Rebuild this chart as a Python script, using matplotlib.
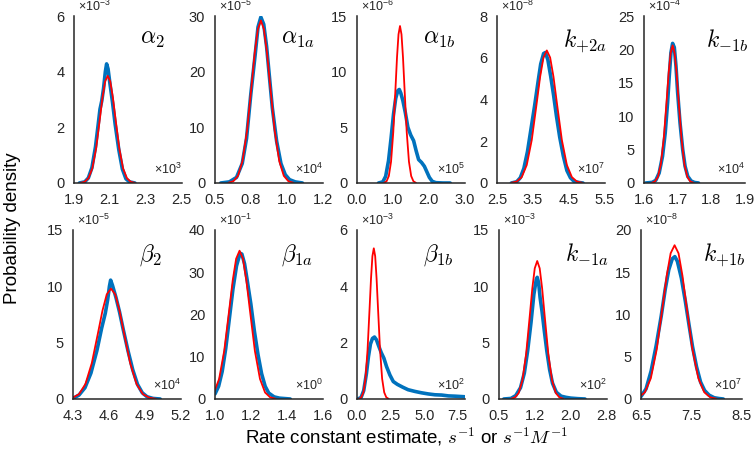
import matplotlib
matplotlib.use("Agg")
import matplotlib.pyplot as plt
from matplotlib.ticker import FormatStrFormatter, FixedLocator

plt.rcParams['font.family'] = ['Liberation Sans', 'DejaVu Sans']
plt.rcParams['mathtext.fontset'] = 'cm'

BLUE = '#0072BD'
RED = '#FF0000'
GRAY = '#262626'

# ---------------- data (x in units of 10^xexp, y in units of 10^yexp) ----------------
titles = [r'$\alpha_2$', r'$\alpha_{1a}$', r'$\alpha_{1b}$', r'$k_{+2a}$', r'$k_{-1b}$',
          r'$\beta_2$', r'$\beta_{1a}$', r'$\beta_{1b}$', r'$k_{-1a}$', r'$k_{+1b}$']
y_exp = [-3, -5, -6, -8, -4, -5, -1, -3, -3, -8]
x_exp = [3, 4, 5, 7, 4, 4, 0, 2, 2, 7]
x_lims = [(1.9, 2.5), (0.5, 1.25), (0.0, 3.0), (2.5, 5.5), (1.6, 1.9),
          (4.3, 5.2), (1.0, 1.6), (0.0, 8.0), (0.5, 2.75), (6.5, 8.5)]
x_ticks = [[1.9, 2.1, 2.3, 2.5], [0.5, 0.75, 1.0, 1.25], [0.0, 1.0, 2.0, 3.0],
           [2.5, 3.5, 4.5, 5.5], [1.6, 1.7, 1.8, 1.9],
           [4.3, 4.6, 4.9, 5.2], [1.0, 1.2, 1.4, 1.6], [0.0, 2.5, 5.0, 7.5],
           [0.5, 1.25, 2.0, 2.75], [6.5, 7.5, 8.5]]
y_ticks = [[0, 2, 4, 6], [0, 10, 20, 30], [0, 5, 10, 15], [0, 2, 4, 6, 8],
           [0, 5, 10, 15, 20, 25],
           [0, 5, 10, 15], [0, 10, 20, 30, 40], [0, 2, 4, 6], [0, 5, 10, 15],
           [0, 5, 10, 15, 20]]

# alpha_2
a2_bx = [1.93, 1.96, 1.98, 2.00, 2.02, 2.035, 2.045, 2.055, 2.065, 2.075, 2.082, 2.09, 2.10,
         2.115, 2.13, 2.15, 2.17, 2.19, 2.21, 2.24]
a2_by = [0, 0.04, 0.18, 0.55, 1.3, 2.1, 2.65, 2.95, 3.4, 4.0, 4.28, 4.1, 3.6, 2.9, 2.1, 1.2,
         0.5, 0.15, 0.04, 0]
a2_rx = [1.9375, 1.959, 1.9805, 2.002, 2.0235, 2.045, 2.0592, 2.0738, 2.088, 2.1022, 2.1168,
         2.131, 2.1525, 2.174, 2.1955, 2.217, 2.2385]
a2_ry = [0.008, 0.042, 0.17, 0.52, 1.25, 2.34, 3.08, 3.65, 3.85, 3.65, 3.08, 2.34, 1.25, 0.52,
         0.17, 0.042, 0.008]

# alpha_1a
a1a_bx = [0.54, 0.60, 0.65, 0.69, 0.72, 0.75, 0.78, 0.80, 0.82, 0.84, 0.86, 0.88, 0.90, 0.93,
          0.96, 0.99, 1.02, 1.06, 1.11]
a1a_by = [0, 0.2, 1.0, 3.5, 8, 16, 23, 28, 29.8, 28.5, 24.5, 19, 13.5, 7.5, 3.5, 1.5, 0.6, 0.2, 0]
a1a_rx = [0.596, 0.628, 0.66, 0.692, 0.724, 0.756, 0.7773, 0.7987, 0.82, 0.8413, 0.8627, 0.884,
          0.916, 0.948, 0.98, 1.012, 1.044]
a1a_ry = [0.06, 0.32, 1.28, 3.95, 9.48, 17.7, 23.4, 27.6, 29.2, 27.6, 23.4, 17.7, 9.48, 3.95,
          1.28, 0.32, 0.06]

# alpha_1b
a1b_bx = [0.6, 0.72, 0.8, 0.88, 0.95, 1.02, 1.08, 1.14, 1.18, 1.22, 1.28, 1.35, 1.42, 1.5, 1.58,
          1.65, 1.72, 1.8, 1.88, 1.95, 2.02, 2.1, 2.2, 2.4, 2.6]
a1b_by = [0, 0.1, 0.6, 2.0, 4.0, 6.2, 7.6, 8.3, 8.4, 8.1, 7.4, 6.3, 5.0, 4.3, 3.8, 2.9, 2.1,
          1.85, 1.5, 1.0, 0.5, 0.15, 0.03, 0, 0]
a1b_rx = [0.7625, 0.825, 0.8875, 0.95, 1.0125, 1.075, 1.1167, 1.1583, 1.2, 1.2417, 1.2833,
          1.325, 1.3875, 1.45, 1.5125, 1.575, 1.6375]
a1b_ry = [0.03, 0.155, 0.62, 1.91, 4.58, 8.56, 11.3, 13.35, 14.1, 13.35, 11.3, 8.56, 4.58,
          1.91, 0.62, 0.155, 0.03]

# k_{+2a}
k2a_bx = [2.9, 3.05, 3.15, 3.25, 3.35, 3.45, 3.55, 3.65, 3.72, 3.8, 3.85, 3.92, 4.0, 4.08, 4.16,
          4.25, 4.35, 4.45, 4.55, 4.65, 4.8, 4.9]
k2a_by = [0, 0.06, 0.25, 0.7, 1.5, 2.6, 3.7, 4.9, 5.7, 6.2, 6.25, 5.9, 5.1, 4.2, 3.2, 2.2, 1.3,
          0.6, 0.25, 0.08, 0.02, 0]
k2a_rx = [2.91, 3.05, 3.19, 3.33, 3.47, 3.61, 3.703, 3.797, 3.89, 3.983, 4.077, 4.17, 4.31,
          4.45, 4.59, 4.73, 4.87]
k2a_ry = [0.014, 0.07, 0.28, 0.86, 2.06, 3.85, 5.08, 6.01, 6.35, 6.01, 5.08, 3.85, 2.06, 0.86,
          0.28, 0.07, 0.014]

# k_{-1b}
k1b_bx = [1.605, 1.625, 1.635, 1.645, 1.655, 1.663, 1.67, 1.675, 1.68, 1.685, 1.69, 1.695, 1.70,
          1.707, 1.715, 1.722, 1.73, 1.74, 1.75, 1.762]
k1b_by = [0, 0.1, 0.4, 1.5, 4.0, 7.5, 12, 16, 19.5, 20.9, 20.3, 17.5, 13.5, 9, 5, 2.5, 1.0,
          0.3, 0.08, 0]
k1b_rx = [1.6238, 1.6325, 1.6413, 1.65, 1.6588, 1.6675, 1.6733, 1.6792, 1.685, 1.6908, 1.6967,
          1.7025, 1.7113, 1.72, 1.7288, 1.7375, 1.7463]
k1b_ry = [0.045, 0.23, 0.91, 2.79, 6.7, 12.5, 16.5, 19.5, 20.6, 19.5, 16.5, 12.5, 6.7, 2.79,
          0.91, 0.23, 0.045]

# beta_2
b2_bx = [4.30, 4.35, 4.40, 4.45, 4.50, 4.54, 4.57, 4.59, 4.605, 4.615, 4.63, 4.66, 4.69, 4.72,
         4.76, 4.80, 4.84, 4.88, 4.92, 4.97, 5.03]
b2_by = [0.05, 0.35, 1.0, 2.3, 4.3, 6.3, 7.6, 8.8, 10.0, 10.55, 10.1, 9.0, 7.7, 6.2, 4.3, 2.6,
         1.3, 0.55, 0.2, 0.05, 0]
b2_rx = [4.2435, 4.297, 4.3505, 4.404, 4.4575, 4.511, 4.5467, 4.5823, 4.618, 4.6537, 4.6893,
         4.725, 4.7785, 4.832, 4.8855, 4.939, 4.9925]
b2_ry = [0.02, 0.11, 0.43, 1.33, 3.19, 5.95, 7.84, 9.28, 9.8, 9.28, 7.84, 5.95, 3.19, 1.33,
         0.43, 0.11, 0.02]

# beta_1a
b1a_bx = [1.0, 1.02, 1.04, 1.06, 1.08, 1.10, 1.12, 1.14, 1.15, 1.165, 1.18, 1.20, 1.22, 1.24,
          1.26, 1.28, 1.30, 1.33, 1.36, 1.42]
b1a_by = [1.2, 3.0, 6.5, 12, 19, 26, 31.5, 34.5, 34.3, 32, 28, 22.5, 16, 10.5, 6, 3, 1.4, 0.5,
          0.2, 0]
b1a_rx = [0.9375, 0.966, 0.9945, 1.023, 1.0515, 1.08, 1.099, 1.118, 1.137, 1.156, 1.175, 1.194,
          1.2225, 1.251, 1.2795, 1.308, 1.3365]
b1a_ry = [0.07, 0.39, 1.54, 4.75, 11.4, 21.3, 28.1, 33.2, 35.1, 33.2, 28.1, 21.3, 11.4, 4.75,
          1.54, 0.39, 0.07]

# beta_1b
b1b_bx = [0.05, 0.3, 0.5, 0.7, 0.85, 1.0, 1.15, 1.3, 1.45, 1.6, 1.8, 2.0, 2.2, 2.45, 2.7, 3.0,
          3.4, 3.8, 4.3, 4.8, 5.3, 5.8, 6.3, 6.8, 7.3, 8.0]
b1b_by = [0, 0.05, 0.3, 0.9, 1.5, 1.95, 2.15, 2.2, 2.1, 1.9, 1.65, 1.45, 1.15, 0.85, 0.62, 0.52,
          0.42, 0.33, 0.27, 0.22, 0.18, 0.15, 0.14, 0.11, 0.1, 0.08]
b1b_rx = [0.165, 0.32, 0.475, 0.63, 0.785, 0.94, 1.0433, 1.1467, 1.25, 1.3533, 1.4567, 1.56,
          1.715, 1.87, 2.025, 2.18, 2.335]
b1b_ry = [0.012, 0.059, 0.235, 0.72, 1.74, 3.25, 4.28, 5.07, 5.35, 5.07, 4.28, 3.25, 1.74, 0.72,
          0.235, 0.059, 0.012]

# k_{-1a}
k1a_bx = [0.6, 0.75, 0.85, 0.95, 1.03, 1.1, 1.17, 1.23, 1.28, 1.3, 1.33, 1.36, 1.40, 1.45, 1.5,
          1.56, 1.62, 1.7, 1.8, 1.9, 2.0, 2.15, 2.3]
k1a_by = [0, 0.05, 0.3, 1.0, 2.3, 4.3, 6.8, 9.3, 10.6, 10.8, 10.3, 9.0, 7.8, 6.0, 4.3, 2.6, 1.4,
          0.6, 0.25, 0.15, 0.08, 0.03, 0]
k1a_rx = [0.7575, 0.835, 0.9125, 0.99, 1.0675, 1.145, 1.1967, 1.2483, 1.3, 1.3517, 1.4033,
          1.455, 1.5325, 1.61, 1.6875, 1.765, 1.8425]
k1a_ry = [0.027, 0.136, 0.54, 1.66, 3.98, 7.43, 9.8, 11.6, 12.25, 11.6, 9.8, 7.43, 3.98, 1.66,
          0.54, 0.136, 0.027]

# k_{+1b}
k1p_bx = [6.5, 6.6, 6.7, 6.8, 6.9, 6.98, 7.05, 7.12, 7.17, 7.22, 7.3, 7.38, 7.45, 7.52, 7.6,
          7.68, 7.76, 7.85, 7.95, 8.05, 8.13]
k1p_by = [0.3, 1.2, 3.3, 6.3, 9.8, 13, 15.3, 16.6, 16.85, 16.3, 14.3, 11.5, 8.8, 6.2, 3.8, 2.0,
          1.0, 0.45, 0.15, 0.05, 0]
k1p_rx = [6.3425, 6.46, 6.5775, 6.695, 6.8125, 6.93, 7.0083, 7.0867, 7.165, 7.2433, 7.3217,
          7.40, 7.5175, 7.635, 7.7525, 7.87, 7.9875]
k1p_ry = [0.04, 0.20, 0.80, 2.46, 5.91, 11.04, 14.56, 17.24, 18.2, 17.24, 14.56, 11.04, 5.91,
          2.46, 0.80, 0.20, 0.04]

blue_x = [a2_bx, a1a_bx, a1b_bx, k2a_bx, k1b_bx, b2_bx, b1a_bx, b1b_bx, k1a_bx, k1p_bx]
blue_y = [a2_by, a1a_by, a1b_by, k2a_by, k1b_by, b2_by, b1a_by, b1b_by, k1a_by, k1p_by]
red_x = [a2_rx, a1a_rx, a1b_rx, k2a_rx, k1b_rx, b2_rx, b1a_rx, b1b_rx, k1a_rx, k1p_rx]
red_y = [a2_ry, a1a_ry, a1b_ry, k2a_ry, k1b_ry, b2_ry, b1a_ry, b1b_ry, k1a_ry, k1p_ry]

# ---------------- layout ----------------
W, H = 755, 459
fig = plt.figure(figsize=(W / 100, H / 100), dpi=100)

lefts = [74, 215, 357, 497, 644, 73, 215, 357, 499, 641]
widths = [107.5, 107.5, 107.5, 107.5, 101, 107.5, 107.5, 107.5, 107.5, 101]
tops = [16] * 5 + [230] * 5
bottoms = [183] * 5 + [399] * 5

for i in range(10):
    l, t, b = lefts[i], tops[i], bottoms[i]
    ax = fig.add_axes([l / W, (H - b) / H, widths[i] / W, (b - t) / H])
    ax.plot(blue_x[i], blue_y[i], color=BLUE, lw=2.6, solid_capstyle='round',
            solid_joinstyle='round')
    ax.plot(red_x[i], red_y[i], color=RED, lw=1.3, solid_joinstyle='round')
    ax.set_xlim(*x_lims[i])
    ax.set_ylim(y_ticks[i][0], y_ticks[i][-1])
    ax.xaxis.set_major_locator(FixedLocator(x_ticks[i]))
    ax.yaxis.set_major_locator(FixedLocator(y_ticks[i]))
    ax.xaxis.set_major_formatter(FormatStrFormatter('%.1f'))
    ax.yaxis.set_major_formatter(FormatStrFormatter('%d'))
    for s in ['top', 'right']:
        ax.spines[s].set_visible(False)
    for s in ['left', 'bottom']:
        ax.spines[s].set_color(GRAY)
        ax.spines[s].set_linewidth(1.1)
    ax.tick_params(axis='both', length=0, labelsize=10.5, colors=GRAY)
    ax.tick_params(axis='x', pad=7.5)
    ax.tick_params(axis='y', pad=7)
    ax.text(0.61, 0.93, titles[i], transform=ax.transAxes, fontsize=17,
            ha='left', va='top', color='black')
    ax.text(0.04, 1.012, r'$\mathregular{\times10^{%d}}$' % y_exp[i], transform=ax.transAxes,
            fontsize=9, ha='left', va='bottom', color=GRAY)
    ax.text(1.0, 0.035, r'$\mathregular{\times10^{%d}}$' % x_exp[i], transform=ax.transAxes,
            fontsize=9, ha='right', va='bottom', color=GRAY)

fig.text(0.017, 0.503, 'Probability density', rotation=90, ha='center', va='center',
         fontsize=13.5, color='black')
fig.text(0.538, 0.048, r'Rate constant estimate, $s^{-1}$ or $s^{-1}M^{-1}$', ha='center',
         va='center', fontsize=13.5, color='black')

fig.savefig('out.png', dpi=100)
